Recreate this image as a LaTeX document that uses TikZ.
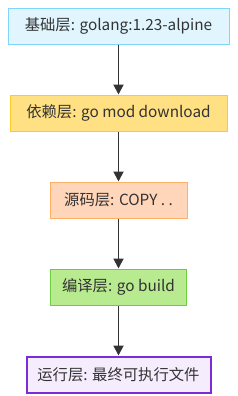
\documentclass[tikz,border=0pt]{standalone}
\usepackage{fontspec}
\setmainfont{Noto Sans CJK SC}
\usetikzlibrary{arrows.meta,positioning}
\definecolor{layerBlueFill}{RGB}{225, 245, 254}
\definecolor{layerBlueLine}{RGB}{129, 212, 250}
\definecolor{layerYellowFill}{RGB}{255, 224, 130}
\definecolor{layerYellowLine}{RGB}{255, 202, 40}
\definecolor{layerPeachFill}{RGB}{255, 214, 186}
\definecolor{layerPeachLine}{RGB}{255, 176, 103}
\definecolor{layerGreenFill}{RGB}{184, 234, 143}
\definecolor{layerGreenLine}{RGB}{108, 206, 60}
\definecolor{layerPurpleFill}{RGB}{245, 236, 253}
\definecolor{layerPurpleLine}{RGB}{123, 44, 214}
\definecolor{arrowGrey}{RGB}{51, 51, 51}

\begin{document}
\begin{tikzpicture}[
  x=0.75pt, y=-0.75pt,
  layer/.style={
    draw,
    line width=0.75pt,
    minimum height=27pt,
    inner sep=0pt,
    align=center,
    text=arrowGrey,
    font=\fontsize{11.5pt}{13pt}\selectfont
  },
  arrow/.style={-{Triangle[length=7.5pt,width=7.5pt]},line width=1.4pt,arrowGrey}
]
  \useasboundingbox (0,0) rectangle (237,396);
  \node[layer,fill=layerBlueFill,draw=layerBlueLine,minimum width=165.75pt]
    (base) at (118.5,26) {基础层: golang:1.23-alpine};
  \node[layer,fill=layerYellowFill,draw=layerYellowLine,minimum width=162.75pt,
    below=37.5pt of base] (deps) {依赖层: go mod download};
  \node[layer,fill=layerPeachFill,draw=layerPeachLine,minimum width=102.75pt,
    below=37.5pt of deps] (source) {源码层: COPY . .};
  \node[layer,fill=layerGreenFill,draw=layerGreenLine,minimum width=102pt,
    below=37.5pt of source] (build) {编译层: go build};
  \node[layer,fill=layerPurpleFill,draw=layerPurpleLine,line width=1.5pt,
    minimum width=138pt,below=37.5pt of build] (runtime) {运行层: 最终可执行文件};
  \draw[arrow] (base) -- (deps);
  \draw[arrow] (deps) -- (source);
  \draw[arrow] (source) -- (build);
  \draw[arrow] (build) -- (runtime);
\end{tikzpicture}
\end{document}
